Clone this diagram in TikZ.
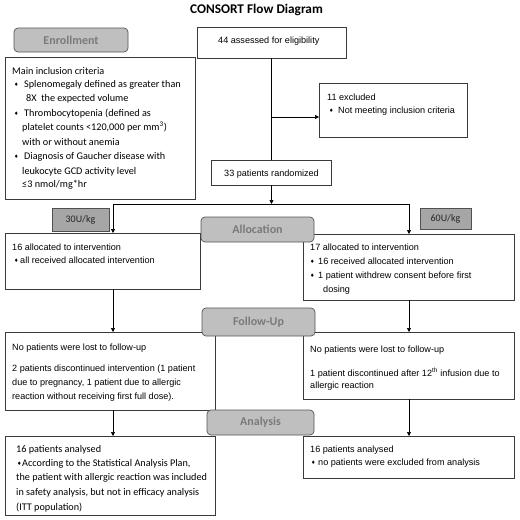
\documentclass[tikz,border=0pt]{standalone}
\usepackage{fontspec}
\setmainfont{Liberation Sans}
\newfontfamily\calfont{Carlito}
\newfontfamily\djfont{DejaVu Sans}
\usetikzlibrary{arrows.meta}
\definecolor{boxline}{HTML}{3A3A3A}
\definecolor{stagefill}{HTML}{BFBFBF}
\definecolor{stageline}{HTML}{555555}
\definecolor{stagetext}{HTML}{7A7A7A}
\definecolor{dosefill}{HTML}{A6A6A6}
\definecolor{doseline}{HTML}{505050}
\newcommand\bul{{\djfont\fontsize{5}{5}\selectfont\raisebox{0.8pt}{♦}}}
\begin{document}
\begin{tikzpicture}[x=1pt,y=-1pt,
  box/.style={draw=boxline,line width=0.7pt,fill=white,anchor=north west,inner sep=0pt,outer sep=0pt},
  stage/.style={draw=stageline,line width=0.7pt,fill=stagefill,rounded corners=4pt,anchor=north west,inner sep=0pt,outer sep=0pt,text=stagetext,font=\calfont\bfseries\fontsize{12}{14}\selectfont},
  dose/.style={draw=doseline,line width=0.7pt,fill=dosefill,anchor=north west,inner sep=0pt,outer sep=0pt,text=black!85,font=\calfont\fontsize{10}{12}\selectfont},
  ar/.style={anchor=base west,inner sep=0pt,font=\fontsize{9.1}{11}\selectfont},
  ca/.style={anchor=base west,inner sep=0pt,font=\calfont\fontsize{10.2}{12}\selectfont},
  title/.style={inner sep=0pt,font=\calfont\bfseries\fontsize{13.3}{15}\selectfont},
  link/.style={draw=black,line width=0.7pt},
  arr/.style={link,-{Triangle[length=4pt,width=4pt]}}
]
\useasboundingbox[fill=white] (0,0) rectangle (520,520);

\node[title] (ttl) at (256.5,10) {CONSORT Flow Diagram};

% boxes
\node[box,minimum width=149pt,minimum height=31pt] (elig) at (197,27) {};
\node[box,minimum width=190pt,minimum height=142pt] (incl) at (5,57) {};
\node[box,minimum width=148pt,minimum height=54pt] (excl) at (319,83) {};
\node[box,minimum width=120pt,minimum height=25pt] (rand) at (211.5,160) {};
\node[box,minimum width=195pt,minimum height=56pt] (allocL) at (5,233) {};
\node[box,minimum width=211pt,minimum height=66pt] (allocR) at (303,234) {};
\node[box,minimum width=210pt,minimum height=78pt] (followL) at (5,332) {};
\node[box,minimum width=211pt,minimum height=67pt] (followR) at (303,332) {};
\node[box,minimum width=210pt,minimum height=79pt] (anaL) at (5,436) {};
\node[box,minimum width=211pt,minimum height=42pt] (anaR) at (303,436) {};

% stage labels
\node[stage,minimum width=114pt,minimum height=24pt] (enroll) at (14,28) {Enrollment};
\node[stage,minimum width=113pt,minimum height=25pt] (alloc) at (201,217) {Allocation};
\node[stage,minimum width=113pt,minimum height=28pt] (follow) at (202,308) {Follow-Up};
\node[stage,minimum width=107pt,minimum height=25pt] (ana) at (207,410) {Analysis};

% dose labels
\node[dose,minimum width=57pt,minimum height=23pt] (d30) at (52,208) {30U/kg};
\node[dose,minimum width=51pt,minimum height=21pt] (d60) at (420,208) {60U/kg};

% connectors
\coordinate (exj) at (271.5,117);
\coordinate (split) at (271.5,204);
\coordinate (lx) at (113,204);
\coordinate (rx) at (409,204);
\draw[link] (elig.south) -- (rand.north);
\draw[arr] (exj) -- (exj -| excl.west);
\draw[arr] (rand.south) -- (split);
\draw[link] (lx) -- (rx);
\draw[arr] (lx) -- (lx |- allocL.north);
\draw[arr] (rx) -- (rx |- allocR.north);
\draw[arr] (lx |- allocL.south) -- (lx |- followL.north);
\draw[arr] (rx |- allocR.south) -- (rx |- followR.north);
\draw[arr] (lx |- followL.south) -- (lx |- anaL.north);
\draw[arr] (rx |- followR.south) -- (rx |- anaR.north);

% texts
\node[ar] (t44) at (218,43.5) {44 assessed for eligibility};
\node[ar] (t11) at (327,100.5) {11 excluded};
\node[ar] (t11b) at (329,113.5) {\makebox[9pt][l]{\bul}Not meeting inclusion criteria};
\node[ar] (t33) at (224,176.5) {33 patients randomized};

\node[ca] (i1) at (12,74) {Main inclusion criteria};
\node[ca] (i2) at (14,87) {\makebox[10pt][l]{\bul}Splenomegaly defined as greater than};
\node[ca] (i3) at (26,101.5) {8X\ \ the expected volume};
\node[ca] (i4) at (14,116) {\makebox[10pt][l]{\bul}Thrombocytopenia (defined as};
\node[ca] (i5) at (22,130.5) {platelet counts <120,000 per mm\textsuperscript{3})};
\node[ca] (i6) at (22,145) {with or without anemia};
\node[ca] (i7) at (14,159.5) {\makebox[10pt][l]{\bul}Diagnosis of Gaucher disease with};
\node[ca] (i8) at (22,174) {leukocyte GCD activity level};
\node[ca] (i9) at (22,187) {≤3 nmol/mg*hr};

\node[ar] (aL1) at (12,250.5) {16 allocated to intervention};
\node[ar] (aL2) at (14,263.5) {\makebox[6pt][l]{\bul}all received allocated intervention};

\node[ar] (aR1) at (310,250.5) {17 allocated to intervention};
\node[ar] (aR2) at (310,264.5) {\makebox[8pt][l]{\bul}16 received allocated intervention};
\node[ar] (aR3) at (310,278.5) {\makebox[8pt][l]{\bul}1 patient withdrew consent before first};
\node[ar] (aR4) at (323,292.5) {dosing};

\node[ar] (fL1) at (12,350.5) {No patients were lost to follow-up};
\node[ar] (fL2) at (12,371.5) {2 patients discontinued intervention (1 patient};
\node[ar] (fL3) at (12,385.5) {due to pregnancy, 1 patient due to allergic};
\node[ar] (fL4) at (12,399.5) {reaction without receiving first full dose).};

\node[ar] (fR1) at (310,352.5) {No patients were lost to follow-up};
\node[ar] (fR2) at (310,376) {1 patient discontinued after 12\textsuperscript{th} infusion due to};
\node[ar] (fR3) at (310,388.5) {allergic reaction};

\node[ca] (nL1) at (16,452) {16 patients analysed};
\node[ca] (nL2) at (17,466) {\makebox[5pt][l]{\bul}According to the Statistical Analysis Plan,};
\node[ca] (nL3) at (16,480) {the patient with allergic reaction was included};
\node[ca] (nL4) at (16,495) {in safety analysis, but not in efficacy analysis};
\node[ca] (nL5) at (16,510) {(ITT population)};

\node[ar] (nR1) at (310,452.5) {16 patients analysed};
\node[ar] (nR2) at (311,465.5) {\makebox[7pt][l]{\bul}no patients were excluded from analysis};
\end{tikzpicture}
\end{document}
